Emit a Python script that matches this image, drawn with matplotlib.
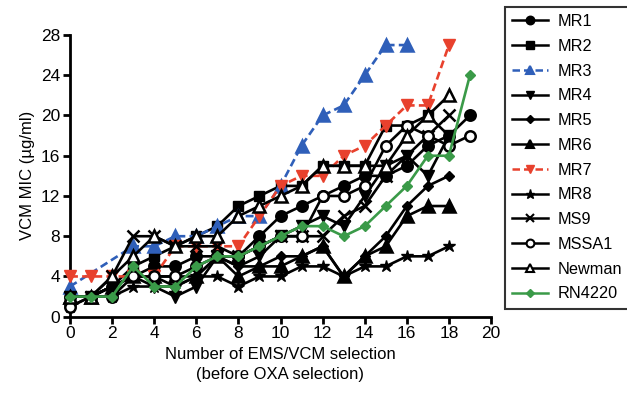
import matplotlib
matplotlib.use("Agg")
import matplotlib.pyplot as plt
from matplotlib.lines import Line2D

plt.rcParams['font.family'] = ['Liberation Sans', 'DejaVu Sans']

# ---- data ----
x_full = list(range(0, 19))
x_19 = list(range(0, 20))
x_mr3 = [0, 3, 4, 5, 6, 7, 8, 9, 10, 11, 12, 13, 14, 15, 16]

MR1 = [2, 2, 3, 4, 5, 5, 6, 6, 6, 8, 10, 11, 12, 13, 14, 14, 15, 17, 18, 20]
MR2 = [2, 2, 3, 5, 6, 7, 8, 9, 11, 12, 13, 13, 15, 15, 15, 19, 19, 20, 18]
MR3 = [3, 7, 7, 8, 8, 9, 10, 10, 13, 17, 20, 21, 24, 27, 27]
MR4 = [2, 2, 3, 4, 3, 2, 3, 6, 5, 6, 8, 9, 10, 9, 12, 15, 16, 14, 18]
MR5 = [2, 2, 3, 4, 4, 3, 4, 6, 5, 5, 6, 6, 7, 4, 6, 8, 11, 13, 14]
MR6 = [2, 2, 3, 4, 4, 4, 4, 6, 4, 5, 5, 6, 7, 4, 6, 7, 10, 11, 11]
MR7 = [4, 4, 4, 4, 4, 7, 7, 7, 7, 10, 13, 14, 14, 16, 17, 19, 21, 21, 27]
MR8 = [1, 2, 2, 3, 3, 3, 4, 4, 3, 4, 4, 5, 5, 4, 5, 5, 6, 6, 7]
MS9 = [2, 2, 4, 8, 8, 7, 7, 7, 6, 7, 8, 8, 8, 10, 11, 14, 16, 18, 20]
MSSA1 = [1, 2, 2, 4, 4, 4, 5, 6, 6, 7, 8, 8, 12, 12, 13, 17, 19, 18, 17, 18]
Newman = [2, 2, 4, 6, 8, 7, 8, 8, 10, 11, 12, 13, 15, 15, 15, 15, 18, 20, 22]
RN4220 = [2, 2, 2, 5, 3, 3, 5, 6, 6, 7, 8, 9, 9, 8, 9, 11, 13, 16, 16, 24]

y_ticks = [0, 4, 8, 12, 16, 20, 24, 28]
x_ticks = [0, 2, 4, 6, 8, 10, 12, 14, 16, 18, 20]

BLUE = '#2F5FB9'
RED = '#E8412D'
GREEN = '#3A9A48'
K = 'black'

series = [
    ('MR1', x_19, MR1, K, 'o', K, '-'),
    ('MR2', x_full, MR2, K, 's', K, '-'),
    ('MR3', x_mr3, MR3, BLUE, '^', BLUE, (0, (3, 1.6))),
    ('MR4', x_full, MR4, K, 'v', K, '-'),
    ('MR5', x_full, MR5, K, 'D', K, '-'),
    ('MR6', x_full, MR6, K, '^', K, '-'),
    ('MR7', x_full, MR7, RED, 'v', RED, (0, (3, 1.6))),
    ('MR8', x_full, MR8, K, '*', K, '-'),
    ('MS9', x_full, MS9, K, 'x', K, '-'),
    ('MSSA1', x_19, MSSA1, K, 'o', 'white', '-'),
    ('Newman', x_full, Newman, K, '^', 'white', '-'),
    ('RN4220', x_19, RN4220, GREEN, 'D', GREEN, '-'),
]

ms = {'o': 7.5, 's': 7, '^': 8, 'v': 8, 'D': 5.5, '*': 9, 'x': 8}

fig = plt.figure(figsize=(6.27, 3.97), dpi=100)
ax = fig.add_axes([70/627, 1-316.7/397, (491-70)/627, (316.7-35)/397])

handles = []
for name, xs, ys, col, mk, fc, ls in series:
    ax.plot(xs, ys, color=col, linestyle=ls, linewidth=1.9, marker=mk,
            markersize=ms[mk], markerfacecolor=fc, markeredgecolor=col,
            markeredgewidth=1.8 if mk in ('o', '^', 'x') else 1.0, clip_on=False, zorder=3)
    handles.append(Line2D([0], [0], color=col, linestyle=ls, linewidth=1.8, marker=mk,
                          markersize=ms[mk]*0.75, markerfacecolor=fc, markeredgecolor=col,
                          markeredgewidth=1.5 if mk in ('o', '^', 'x') else 1.0, label=name))

ax.set_xlim(0, 20)
ax.set_ylim(0, 28)
ax.set_xticks(x_ticks)
ax.set_yticks(y_ticks)
ax.spines['top'].set_visible(False)
ax.spines['right'].set_visible(False)
for s in ('left', 'bottom'):
    ax.spines[s].set_linewidth(2)
ax.tick_params(direction='out', length=5, width=2, labelsize=12.5, pad=2)

ax.set_xlabel('Number of EMS/VCM selection\n(before OXA selection)', fontsize=12, labelpad=4,
              linespacing=1.45)
ax.set_ylabel('VCM MIC (\u00b5g/ml)', fontsize=12, labelpad=4)

leg = fig.legend(handles=handles, loc='upper left', bbox_to_anchor=(505/627, 1-6.7/397),
                 borderaxespad=0, frameon=True, fancybox=False, edgecolor='black',
                 fontsize=11.7, handlelength=2.2, handletextpad=0.6, labelspacing=0.6,
                 borderpad=0.45)
leg.get_frame().set_linewidth(1.5)

fig.savefig('out.png', dpi=100)
